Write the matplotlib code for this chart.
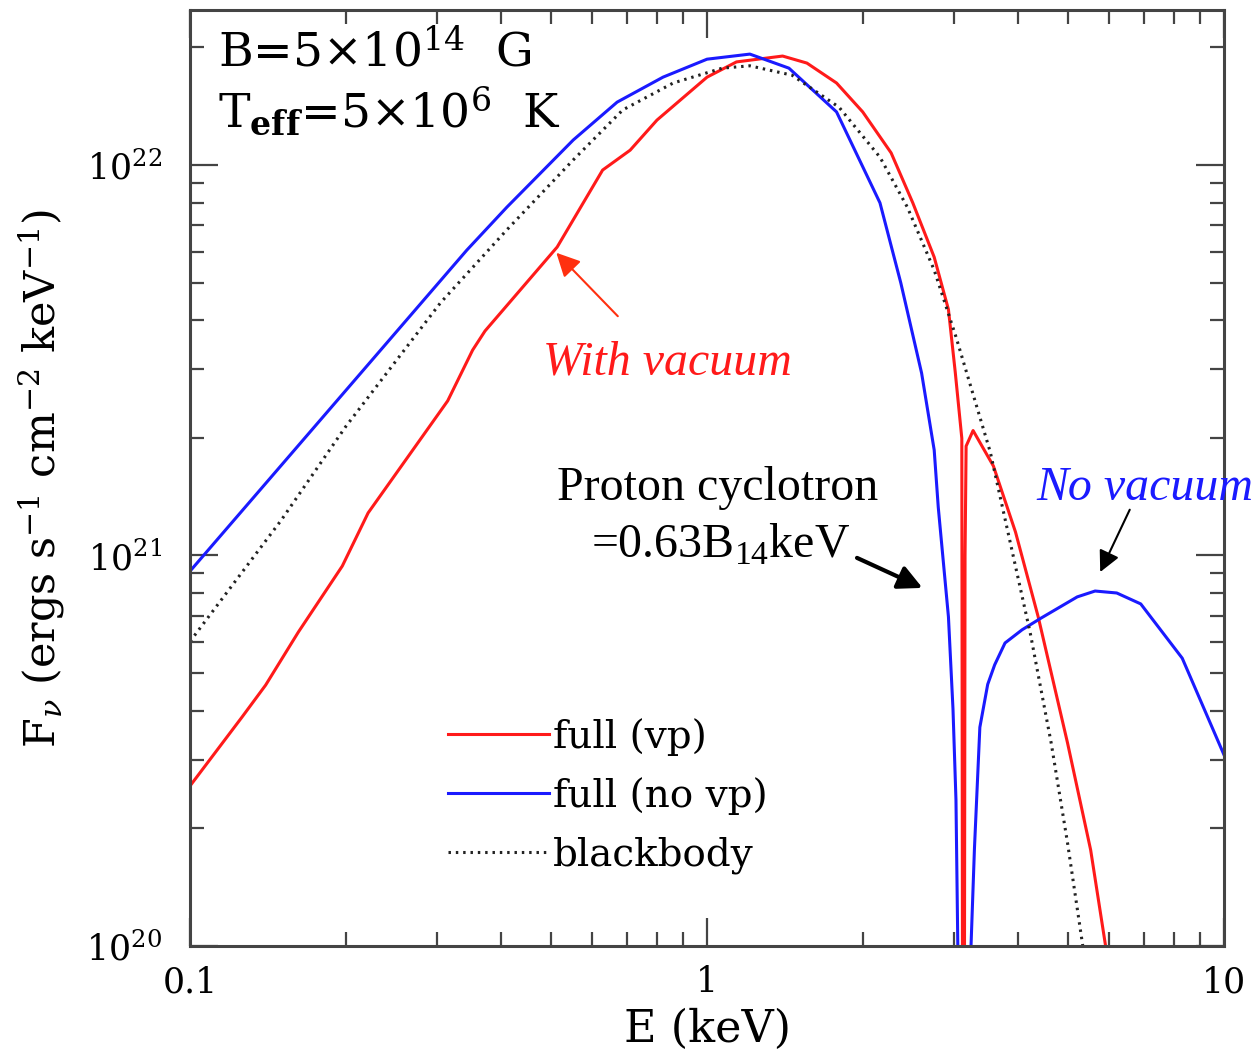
import matplotlib
matplotlib.use("Agg")
import matplotlib.pyplot as plt
import matplotlib.ticker as ticker

# spectra: energy (keV) and log10 F_nu
e_vp = [0.1, 0.126, 0.140, 0.162, 0.197, 0.221, 0.315, 0.352, 0.372, 0.513,
        0.628, 0.710, 0.800, 1.0, 1.14, 1.40, 1.56, 1.78, 2.0, 2.27, 2.5,
        2.75, 2.93, 3.02, 3.11, 3.125, 3.14, 3.155, 3.17, 3.27, 3.58, 3.95,
        4.37, 4.98, 5.52, 5.9, 6.1]
logf_vp = [20.41, 20.586, 20.668, 20.804, 20.973, 21.109, 21.396, 21.526, 21.575, 21.79,
           21.987, 22.038, 22.115, 22.225, 22.264, 22.279, 22.261, 22.21, 22.136, 22.031, 21.903,
           21.764, 21.63, 21.47, 21.30, 19.0, 19.0, 21.0, 21.28, 21.32, 21.229, 21.06,
           20.843, 20.52, 20.246, 20.0, 19.85]

e_novp = [0.1, 0.343, 0.410, 0.551, 0.670, 0.822, 1.0, 1.21, 1.44, 1.78, 2.16,
          2.37, 2.60, 2.75, 2.80, 2.93, 2.99, 3.03, 3.055, 3.07,
          3.20, 3.24, 3.29, 3.37, 3.49, 3.60, 3.77, 4.07, 4.43, 5.2, 5.63,
          6.2, 6.9, 8.3, 10.0]
logf_novp = [20.96, 21.782, 21.892, 22.064, 22.161, 22.225, 22.271, 22.284, 22.248, 22.136, 21.903,
             21.698, 21.467, 21.27, 21.124, 20.843, 20.607, 20.374, 20.0, 19.0,
             19.0, 20.0, 20.25, 20.56, 20.67, 20.72, 20.776, 20.81, 20.84, 20.894, 20.909,
             20.904, 20.876, 20.737, 20.489]

e_bb = [0.1, 0.15, 0.2, 0.305, 0.41, 0.551, 0.687, 0.86, 1.07, 1.21, 1.46, 1.80,
        2.16, 2.44, 2.75, 3.03, 3.53, 4.22, 4.63, 4.98, 5.33, 5.5]
logf_bb = [20.78, 21.09, 21.33, 21.647, 21.834, 22.013, 22.141, 22.21, 22.248, 22.254, 22.23, 22.148,
           22.02, 21.892, 21.731, 21.56, 21.265, 20.80, 20.52, 20.264, 20.0, 19.85]

f_vp = [10 ** v for v in logf_vp]
f_novp = [10 ** v for v in logf_novp]
f_bb = [10 ** v for v in logf_bb]

plt.rcParams['font.family'] = ['DejaVu Serif']
plt.rcParams['mathtext.fontset'] = 'dejavuserif'

fig = plt.figure(figsize=(12.57, 10.61), dpi=100)
ax = fig.add_axes([0.1512, 0.1084, 0.8226, 0.8822])

ax.plot(e_vp, f_vp, color='#ff1a1a', lw=2.2, label='full (vp)')
ax.plot(e_novp, f_novp, color='#1a1aff', lw=2.2, label='full (no vp)')
ax.plot(e_bb, f_bb, color='#222222', lw=2.2, ls=(0, (0.8, 1.6)), label='blackbody')

ax.set_xscale('log')
ax.set_yscale('log')
ax.set_xlim(0.1, 10)
ax.set_ylim(1e20, 10 ** 22.397)

ax.xaxis.set_major_formatter(ticker.FuncFormatter(lambda v, _: f'{v:g}'))
ax.xaxis.set_minor_formatter(ticker.NullFormatter())
ax.yaxis.set_minor_formatter(ticker.NullFormatter())

frame_col = '#444444'
for s in ax.spines.values():
    s.set_linewidth(2.2)
    s.set_color(frame_col)
ax.tick_params(which='both', direction='in', top=True, right=True, color=frame_col)
ax.tick_params(which='major', length=20, width=1.6, labelsize=25)
ax.tick_params(which='minor', length=10, width=1.6)
ax.tick_params(axis='x', which='major', pad=14)
ax.tick_params(axis='y', which='major', pad=20)

ax.set_xlabel('E (keV)', fontsize=32, labelpad=6)
ax.set_ylabel(r'F$_\nu$ (ergs s$^{-1}$ cm$^{-2}$ keV$^{-1}$)', fontsize=31, labelpad=14)

# parameters in the top-left corner
ax.text(0.027, 0.939, r'B=5$\times$10$^{14}$  G', transform=ax.transAxes,
        fontsize=34, va='baseline', ha='left')
ax.text(0.027, 0.875, r'T$_{\mathbf{eff}}$=5$\times$10$^{6}$  K', transform=ax.transAxes,
        fontsize=34, va='baseline', ha='left')

ax.legend(loc='upper left', bbox_to_anchor=(0.2495, 0.244), frameon=False,
          fontsize=28, handlelength=2.6, handletextpad=0.1, labelspacing=0.55,
          borderpad=0, borderaxespad=0)

# annotations
times = 'Liberation Serif'
ax.text(0.4613, 0.6229, 'With vacuum', transform=ax.transAxes, color='#ff1a1a',
        family=times, style='italic', fontsize=34.5, ha='center', va='center')
ax.annotate('', xy=(0.511, 5.96e21), xytext=(0.672, 4.1e21),
            arrowprops=dict(arrowstyle='-|>', color='#ff3010', lw=1.5,
                            mutation_scale=36, shrinkA=0, shrinkB=0))

ax.text(0.5106, 0.4893, 'Proton cyclotron', transform=ax.transAxes, color='black',
        family=times, fontsize=34.5, ha='center', va='center')
ax.text(0.5126, 0.4284, r'=0.63B$_{\mathdefault{14}}$keV', transform=ax.transAxes,
        color='black', family=times, fontsize=34.5, ha='center', va='center')
ax.annotate('', xy=(2.61, 8.26e20), xytext=(1.95, 9.86e20),
            arrowprops=dict(arrowstyle='-|>', color='black', lw=3,
                            mutation_scale=36, shrinkA=0, shrinkB=0))

ax.text(0.9236, 0.4893, 'No vacuum', transform=ax.transAxes, color='#1a1aff',
        family=times, style='italic', fontsize=34.5, ha='center', va='center', zorder=10)
ax.annotate('', xy=(5.76, 9.07e20), xytext=(6.57, 1.31e21),
            arrowprops=dict(arrowstyle='-|>', color='black', lw=1.5,
                            mutation_scale=32, shrinkA=0, shrinkB=0))

fig.savefig('out.png', dpi=100)
